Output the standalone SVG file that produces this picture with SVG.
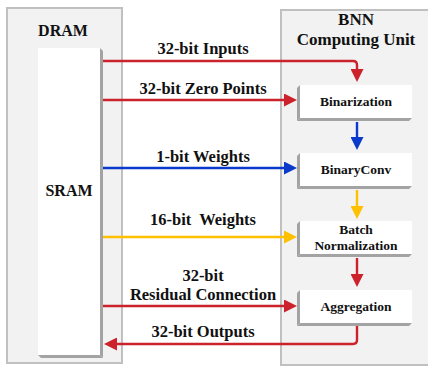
<svg xmlns="http://www.w3.org/2000/svg" width="428" height="368" viewBox="0 0 428 368">
<style>
.panel{fill:#f2f2f2;stroke:#c0c0c0;stroke-width:2}
.face{fill:#ffffff}
.bev{fill:#a3a3a3}
.t{font-family:"Liberation Serif","Times New Roman",serif;font-weight:bold;fill:#111;text-anchor:middle}
.big{font-size:16px}
.cu{font-size:17px}
.lab{font-size:16.5px}
.box{font-size:13.5px}
.ln{fill:none;stroke-width:2.4}
.red{stroke:#cc222b}
.blue{stroke:#0a3acb}
.yel{stroke:#ffc000}
</style>
<defs>
<marker id="ar" markerUnits="userSpaceOnUse" markerWidth="14" markerHeight="13" refX="7" refY="6.5" orient="auto"><path d="M0,0 L13,6.5 L0,13 z" fill="#cc222b"/></marker>
<marker id="ab" markerUnits="userSpaceOnUse" markerWidth="14" markerHeight="13" refX="7" refY="6.5" orient="auto"><path d="M0,0 L13,6.5 L0,13 z" fill="#0a3acb"/></marker>
<marker id="ay" markerUnits="userSpaceOnUse" markerWidth="14" markerHeight="13" refX="7" refY="6.5" orient="auto"><path d="M0,0 L13,6.5 L0,13 z" fill="#ffc000"/></marker>
</defs>

<g id="dram">
<rect class="panel" x="7" y="8" width="115" height="355"/>
<text class="t big" x="63" y="36">DRAM</text>
</g>
<g id="sram">
<rect class="face" x="38" y="48" width="62" height="307"/>
<polygon class="bev" points="100,48 103,51 103,358 100,355"/>
<polygon class="bev" points="41,358 38,355 100,355 103,358"/>
<text class="t big" x="69" y="196">SRAM</text>
</g>
<g id="bnn">
<rect class="panel" x="281" y="10" width="152" height="355"/>
<text class="t cu" x="356" y="25">BNN</text>
<text class="t cu" x="356" y="45">Computing Unit</text>
</g>

<g id="binarization">
<rect class="face" x="300" y="85" width="112" height="33"/>
<polygon class="bev" points="297,88 300,85 300,118 297,121"/>
<polygon class="bev" points="297,121 300,118 412,118 409,121"/>
<text class="t box" x="356" y="106">Binarization</text>
</g>
<g id="binaryconv">
<rect class="face" x="300" y="153" width="112" height="33"/>
<polygon class="bev" points="297,156 300,153 300,186 297,189"/>
<polygon class="bev" points="297,189 300,186 412,186 409,189"/>
<text class="t box" x="356" y="174">BinaryConv</text>
</g>
<g id="batchnorm">
<rect class="face" x="300" y="221" width="112" height="33"/>
<polygon class="bev" points="297,224 300,221 300,254 297,257"/>
<polygon class="bev" points="297,257 300,254 412,254 409,257"/>
<text class="t box" x="356" y="234">Batch</text>
<text class="t box" x="356" y="250">Normalization</text>
</g>
<g id="aggregation">
<rect class="face" x="300" y="290" width="112" height="33"/>
<polygon class="bev" points="297,293 300,290 300,323 297,326"/>
<polygon class="bev" points="297,326 300,323 412,323 409,326"/>
<text class="t box" x="356" y="311">Aggregation</text>
</g>

<g id="connectors">
<path class="ln red" d="M103,61 H353 Q357,61 357,65 V76" marker-end="url(#ar)"/>
<path class="ln red" d="M103,100 H291" marker-end="url(#ar)"/>
<path class="ln blue" d="M103,168 H291" marker-end="url(#ab)"/>
<path class="ln yel" d="M103,237 H291" marker-end="url(#ay)"/>
<path class="ln red" d="M103,306 H291" marker-end="url(#ar)"/>
<path class="ln red" d="M357,326 V340 Q357,344 353,344 H110" marker-end="url(#ar)"/>
<path class="ln blue" d="M357,122 V144" marker-end="url(#ab)"/>
<path class="ln yel" d="M357,190 V213" marker-end="url(#ay)"/>
<path class="ln red" d="M357,258 V281" marker-end="url(#ar)"/>
<text class="t lab" x="203" y="54">32-bit Inputs</text>
<text class="t lab" x="203" y="94">32-bit Zero Points</text>
<text class="t lab" x="203" y="162">1-bit Weights</text>
<text class="t lab" x="203" y="225" xml:space="preserve">16-bit  Weights</text>
<text class="t lab" x="203" y="281">32-bit</text>
<text class="t lab" x="203" y="300">Residual Connection</text>
<text class="t lab" x="203" y="337">32-bit Outputs</text>
</g>
</svg>
